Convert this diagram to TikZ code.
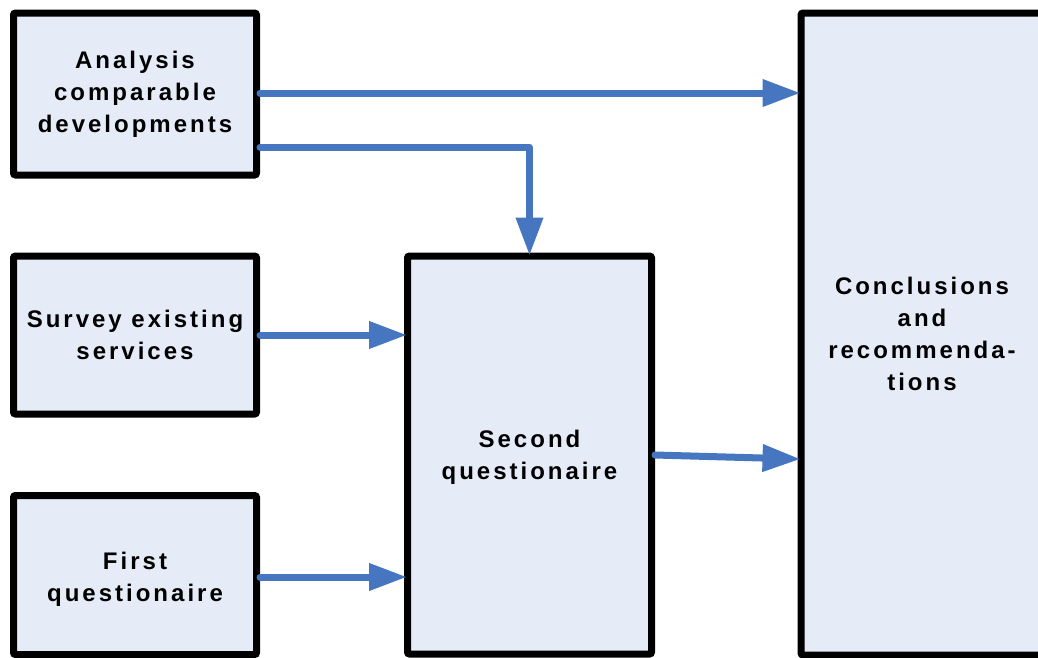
\documentclass[tikz,border=0pt]{standalone}
\usepackage{fontspec}
\newfontfamily\boxfont{Liberation Sans}[LetterSpace=12.5]
\usepackage{tikz}
\usetikzlibrary{arrows.meta}
\definecolor{boxfill}{HTML}{E5ECF7}
\definecolor{flowblue}{HTML}{4676C0}
\tikzset{>={Triangle[length=38pt,width=26pt]}}

\begin{document}
\begin{tikzpicture}[x=1pt,y=-1pt,
  box/.style={draw=black,line width=7pt,fill=boxfill,rounded corners=2pt,
    align=center,inner sep=0pt,minimum width=243pt,
    font=\boxfont\bfseries\fontsize{24}{32}\selectfont},
  flow/.style={->,draw=flowblue,line width=7pt,line cap=round,line join=round,shorten >=-3pt}]
  % Define variables
  \pgfmathsetmacro{\lx}{135}    % left column
  \pgfmathsetmacro{\mx}{529.5}  % middle column
  \pgfmathsetmacro{\rx}{922}    % right column

  \useasboundingbox (0,0) rectangle (1038,657);
  \clip (0,0) rectangle (1038,657);

  % Draw boxes
  \node[box,minimum height=162pt] (analysis) at (\lx,94) {Analysis\\comparable\\developments};
  \node[box,minimum height=158pt] (survey) at (\lx,335) {Survey existing\\services};
  \node[box,minimum height=159pt,text height=58pt] (firstq) at (\lx,575) {First\\questionaire};
  \node[box,minimum width=244pt,minimum height=398pt,text height=54pt] (secondq) at (\mx,455) {Second\\questionaire};
  \node[box,minimum width=242pt,minimum height=642pt] (concl) at (\rx,334) {Conclusions\\and\\recommenda-\\tions};

  % Draw arrows
  \draw[flow] ([yshift=1pt]analysis.east) -- ([yshift=1pt]analysis.east -| concl.west);
  \draw[flow] ([yshift=-53pt]analysis.east) -| (secondq.north);
  \draw[flow] (survey.east) -- (survey.east -| secondq.west);
  \draw[flow] ([yshift=-2pt]firstq.east) -- ([yshift=-2pt]firstq.east -| secondq.west);
  \draw[flow] (secondq.east) -- ([yshift=-4pt]secondq.east -| concl.west);
\end{tikzpicture}
\end{document}
